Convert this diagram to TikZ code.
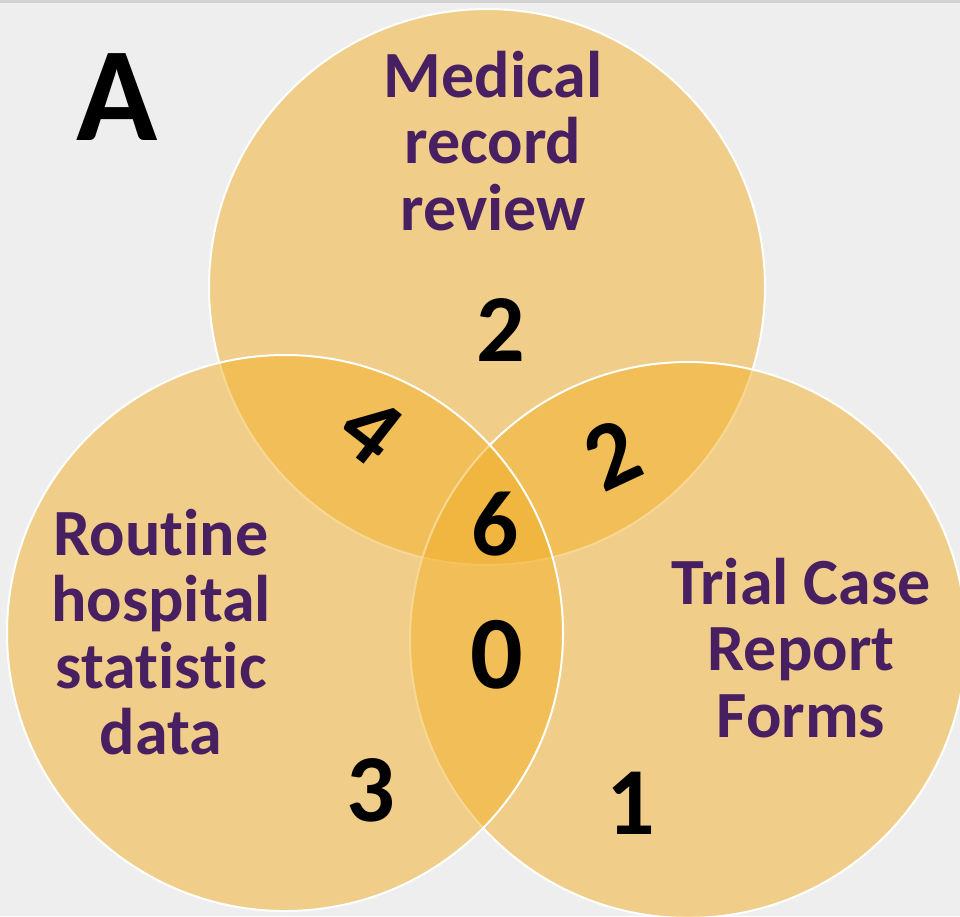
\documentclass[tikz,border=0pt]{standalone}
\usepackage{fontspec}
\setmainfont{Carlito}[RawFeature={-liga;-clig;-calt;-dlig}]
\usepackage{tikz}
\definecolor{slidebg}{HTML}{EEEEEE}
\definecolor{stripgray}{HTML}{D2D2D2}
\definecolor{venngold}{HTML}{F2B028}
\definecolor{labelpurple}{HTML}{481F60}

\begin{document}
\begin{tikzpicture}[x=1pt, y=-1pt,
    setcirc/.style={circle, minimum size=556pt, inner sep=0pt, draw=white, line width=2pt, fill=venngold, fill opacity=0.5},
    setlabel/.style={text=labelpurple, align=center, inner sep=0pt, font=\fontsize{66}{66.5}\selectfont\bfseries},
    count/.style={text=black, inner sep=0pt, font=\fontsize{96}{96}\selectfont\bfseries}]
    % Background
    \fill[slidebg] (0,0) rectangle (960,916);
    \fill[stripgray] (0,0) rectangle (960,3);
    \useasboundingbox (0,0) rectangle (960,916);

    % Circles (top, right, left)
    \node[setcirc] (medical) at (487,287) {};
    \node[setcirc] (trial) at (688,640) {};
    \node[setcirc] (routine) at (285,633) {};

    % Panel letter
    \node[text=black, inner sep=0pt, font=\fontsize{134}{134}\selectfont\bfseries] (panel) at (117,97) {A};

    % Set names
    \node[setlabel] (medlabel) at (493,141) {Medical\\record\\review};
    \node[setlabel] (routlabel) at (161,632) {Routine\\hospital\\statistic\\data};
    \node[setlabel] (triallabel) at (801,648) {Trial Case\\Report\\Forms};

    % Counts
    \node[count] (nmed) at (501,330) {2};
    \node[count, rotate=-38] (nmedrout) at (371,430) {4};
    \node[count, rotate=25] (nmedtrial) at (612,455) {2};
    \node[count, font=\fontsize{93}{93}\selectfont\bfseries] (nall) at (495,524) {6};
    \node[count, font=\fontsize{104}{104}\selectfont\bfseries] (nrouttrial) at (497,655) {0};
    \node[count] (nrout) at (371,790) {3};
    \node[count] (ntrial) at (631,803) {1};
\end{tikzpicture}
\end{document}
